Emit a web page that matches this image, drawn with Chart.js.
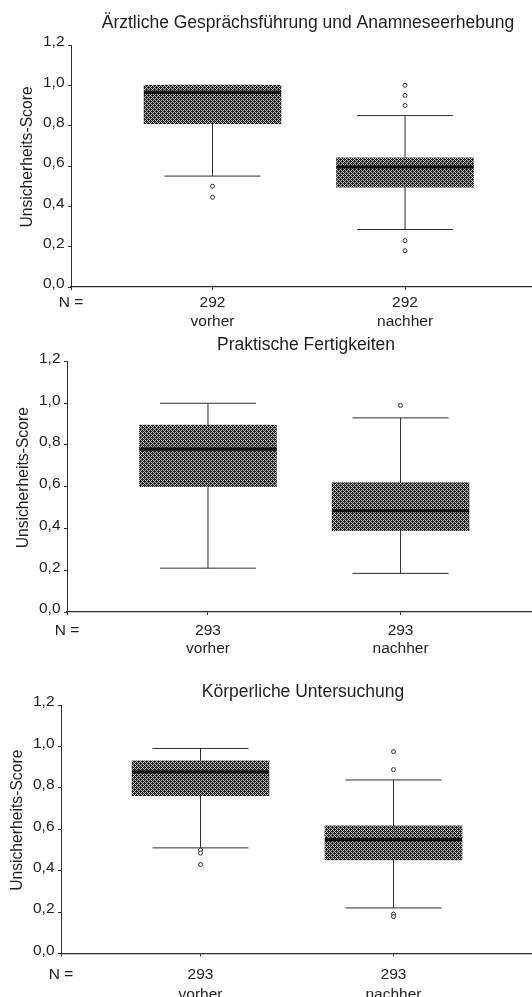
<!DOCTYPE html>
<html>
<head>
<meta charset="utf-8">
<title>Unsicherheits-Score vorher / nachher</title>
<script src="https://cdn.jsdelivr.net/npm/chart.js@4.4.1/dist/chart.umd.min.js"></script>
<style>
  html, body { margin: 0; padding: 0; background: #fff; width: 532px; height: 997px; overflow: hidden; }
  .panel { position: absolute; left: 0; }
  .panel canvas { display: block; }
</style>
</head>
<body>
<div class="panel" style="top:0px"><canvas id="chart0"></canvas></div>
<div class="panel" style="top:330px"><canvas id="chart1"></canvas></div>
<div class="panel" style="top:660px"><canvas id="chart2"></canvas></div>
<script>
// ---- data -------------------------------------------------------------
const groups = ['vorher', 'nachher'];
const panelTitles = [
  'Ärztliche Gesprächsführung und Anamneseerhebung',
  'Praktische Fertigkeiten',
  'Körperliche Untersuchung'
];
const sampleSizes = [[292, 292], [293, 293], [293, 293]];
const lowerWhisker  = [[0.55, 0.285], [0.21, 0.185], [0.51, 0.22]];
const lowerQuartile = [[0.81, 0.495], [0.60, 0.39],  [0.762, 0.452]];
const medians       = [[0.965, 0.595], [0.78, 0.485], [0.877, 0.55]];
const upperQuartile = [[1.0, 0.64],  [0.895, 0.62], [0.93, 0.617]];
const upperWhisker  = [[1.0, 0.85],  [1.0, 0.93],   [0.99, 0.838]];
const outliers = [
  [[0.50, 0.445], [1.0, 0.95, 0.90, 0.23, 0.18]],
  [[], [0.99]],
  [[0.50, 0.485, 0.43], [0.975, 0.888, 0.19, 0.178]]
];
const yTickValues = [0, 0.2, 0.4, 0.6, 0.8, 1.0, 1.2];
const yAxisTitle = 'Unsicherheits-Score';
const nLabel = 'N =';

// ---- layout of the three stacked panels --------------------------------
const panelLayout = [
  { height: 330, left: 71, areaTop: 45,   areaBottom: 287,   titleY: 23, xMin: -0.735, xMax: 1.727, labelPad: 4, labelLine: 1.18 },
  { height: 330, left: 67, areaTop: 31.5, areaBottom: 282,   titleY: 15, xMin: -0.732, xMax: 1.75,  labelPad: 6, labelLine: 1.2 },
  { height: 337, left: 61, areaTop: 45,   areaBottom: 293.5, titleY: 32, xMin: -0.723, xMax: 1.785, labelPad: 8, labelLine: 1.3 }
];
const canvasWidth = 545;
const fontFamily = "'Liberation Sans', Arial, Helvetica, sans-serif";
const textColor = '#1e1e1e';
const lineColor = '#2e2e2e';
const titleSize = 17.5;
const tickSize = 15.5;

Chart.defaults.font.family = fontFamily;
Chart.defaults.color = textColor;

// dithered grey fill used for the boxes
function makeBoxPattern() {
  const tile = document.createElement('canvas');
  tile.width = 4; tile.height = 4;
  const g = tile.getContext('2d');
  g.fillStyle = '#b8b8b8';
  g.fillRect(0, 0, 4, 4);
  g.fillStyle = '#262626';
  const mask = [
    [1, 0, 1, 0],
    [0, 1, 1, 1],
    [1, 0, 1, 0],
    [1, 1, 0, 1]
  ];
  mask.forEach((row, y) => row.forEach((on, x) => { if (on) g.fillRect(x, y, 1, 1); }));
  return g.createPattern(tile, 'repeat');
}
const boxFill = makeBoxPattern();

// rotated y-axis caption, placed a little above the middle of the plot area
const yCaptionPlugin = {
  id: 'yCaption',
  afterDraw(chart, args, opts) {
    const { ctx, chartArea } = chart;
    ctx.save();
    ctx.translate(chartArea.left - opts.gap, (chartArea.top + chartArea.bottom) / 2 - opts.rise);
    ctx.rotate(-Math.PI / 2);
    ctx.font = opts.size + 'px ' + fontFamily;
    ctx.fillStyle = textColor;
    ctx.textAlign = 'center';
    ctx.textBaseline = 'middle';
    ctx.fillText(opts.text, 0, 0);
    ctx.restore();
  }
};

function formatScore(v) {
  return v.toFixed(1).replace('.', ',');
}

function buildPanel(p) {
  const L = panelLayout[p];
  const canvas = document.getElementById('chart' + p);
  canvas.width = canvasWidth;
  canvas.height = L.height;

  const datasets = [];

  // whisker stems (drawn underneath the boxes)
  groups.forEach((g, i) => {
    datasets.push({
      type: 'scatter',
      showLine: true,
      data: [{ x: i, y: lowerWhisker[p][i] }, { x: i, y: upperWhisker[p][i] }],
      borderColor: lineColor,
      borderWidth: 1,
      pointRadius: 0,
      order: 5
    });
  });

  // whisker caps
  const caps = [];
  groups.forEach((g, i) => {
    caps.push({ x: i, y: lowerWhisker[p][i] });
    caps.push({ x: i, y: upperWhisker[p][i] });
  });
  datasets.push({
    type: 'scatter',
    data: caps,
    pointStyle: 'line',
    pointRadius: 48,
    borderColor: lineColor,
    borderWidth: 1,
    order: 4
  });

  // interquartile boxes
  datasets.push({
    type: 'bar',
    data: groups.map((g, i) => ({ x: i, y: [lowerQuartile[p][i], upperQuartile[p][i]] })),
    backgroundColor: boxFill,
    borderWidth: 0,
    barThickness: 137,
    order: 3
  });

  // medians
  datasets.push({
    type: 'scatter',
    data: groups.map((g, i) => ({ x: i, y: medians[p][i] })),
    pointStyle: 'line',
    pointRadius: 68.5,
    borderColor: '#111',
    borderWidth: 3.2,
    order: 2
  });

  // outliers
  const pts = [];
  outliers[p].forEach((vals, i) => vals.forEach(v => pts.push({ x: i, y: v })));
  datasets.push({
    type: 'scatter',
    data: pts,
    pointStyle: 'circle',
    pointRadius: 2,
    borderColor: lineColor,
    backgroundColor: '#fff',
    borderWidth: 1,
    order: 1
  });

  const titleLine = titleSize * 1.2;
  const titlePadTop = L.titleY - titleLine / 2;
  const titlePadBottom = L.areaTop - titlePadTop - titleLine;

  return new Chart(canvas, {
    type: 'scatter',
    data: { datasets },
    plugins: [yCaptionPlugin],
    options: {
      responsive: false,
      animation: false,
      events: [],
      layout: { padding: 0, autoPadding: false },
      plugins: {
        legend: { display: false },
        tooltip: { enabled: false },
        title: {
          display: true,
          text: panelTitles[p],
          fullSize: false,
          color: textColor,
          font: { size: titleSize, weight: 'normal', family: fontFamily, lineHeight: 1.2 },
          padding: { top: titlePadTop, bottom: titlePadBottom }
        },
        yCaption: { text: yAxisTitle, size: 15.7, gap: 43, rise: 9 }
      },
      scales: {
        x: {
          type: 'linear',
          position: 'bottom',
          min: L.xMin,
          max: L.xMax,
          offset: false,
          afterBuildTicks(scale) {
            scale.ticks = [{ value: L.xMin }, { value: 0 }, { value: 1 }];
          },
          afterFit(scale) {
            scale.height = L.height - L.areaBottom;
          },
          ticks: {
            autoSkip: false,
            maxRotation: 0,
            padding: L.labelPad,
            color: textColor,
            font: { size: tickSize, lineHeight: L.labelLine },
            callback(value, index) {
              if (index === 0) return nLabel;
              return [String(sampleSizes[p][index - 1]), groups[index - 1]];
            }
          },
          grid: { display: true, drawOnChartArea: false, drawTicks: true, tickLength: 3, color: lineColor, offset: false },
          border: { display: true, color: lineColor, width: 1.3 }
        },
        y: {
          type: 'linear',
          min: 0,
          max: 1.2,
          afterBuildTicks(scale) {
            scale.ticks = yTickValues.map(v => ({ value: v }));
          },
          afterFit(scale) {
            scale.width = L.left;
          },
          ticks: {
            padding: 3.5,
            labelOffset: -3,
            color: textColor,
            font: { size: tickSize },
            callback: v => formatScore(v)
          },
          grid: { display: true, drawOnChartArea: false, drawTicks: true, tickLength: 3, color: lineColor },
          border: { display: true, color: lineColor, width: 1 }
        }
      }
    }
  });
}

panelLayout.forEach((L, p) => buildPanel(p));
</script>
</body>
</html>
